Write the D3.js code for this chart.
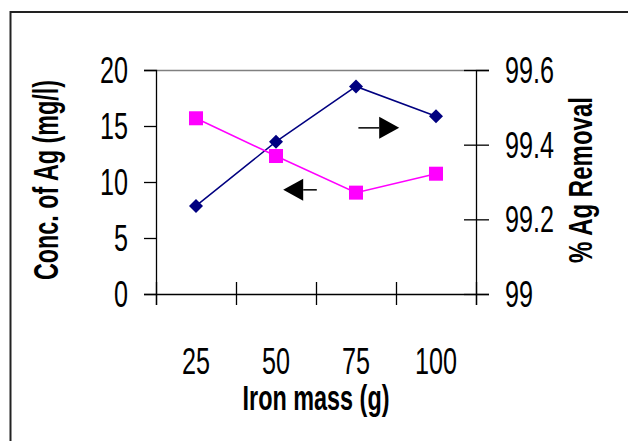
<!DOCTYPE html>
<html>
<head>
<meta charset="utf-8">
<script src="https://cdn.jsdelivr.net/npm/d3@7"></script>
<style>
  html, body { margin: 0; padding: 0; background: #fff; }
  svg { display: block; }
  text { font-family: "Liberation Sans Narrow", "Liberation Sans", Arial, sans-serif; fill: #000; }
</style>
</head>
<body>
<svg id="chart" width="628" height="441"></svg>
<script>
// Iron mass categories (g)
const categories = ["25", "50", "75", "100"];
// Residual silver concentration (mg/l), left axis
const concValues = [15.69, 12.32, 9.05, 10.74];
// Silver removal (%), right axis
const removalValues = [99.236, 99.408, 99.556, 99.476];
// Axis ticks
const concTicks = [0, 5, 10, 15, 20];
const removalTicks = [99, 99.2, 99.4, 99.6];
// Direction arrows: which axis each series belongs to
const arrowNotes = [
  { axis: "left",  from: 2.01, to: 1.59, value: 9.3 },
  { axis: "right", from: 2.53, to: 3.04, value: 99.445 }
];

const svg = d3.select("#chart");
const plot = { left: 156, top: 70, width: 320, height: 224 };

const x = d3.scaleBand().domain(categories).range([plot.left, plot.left + plot.width]).padding(0);
const xEdge = d3.scaleLinear().domain([0, categories.length]).range([plot.left, plot.left + plot.width]);
const yConc = d3.scaleLinear().domain([0, 20]).range([plot.top + plot.height, plot.top]);
const yRem = d3.scaleLinear().domain([99, 99.6]).range([plot.top + plot.height, plot.top]);
const cx = d => x(d) + x.bandwidth() / 2;

// chart frame (outer border)
svg.append("path")
  .attr("d", "M10.5,441 V12 H628")
  .attr("fill", "none").attr("stroke", "#222").attr("stroke-width", 2);

// plot area top edge
svg.append("line")
  .attr("x1", plot.left).attr("x2", plot.left + plot.width)
  .attr("y1", plot.top + 0.5).attr("y2", plot.top + 0.5)
  .attr("stroke", "#808080").attr("stroke-width", 1.3);

// horizontal condensing for the narrow lettering
function measure(txt, size, weight) {
  const t = svg.append("text").style("font-size", size + "px").style("font-weight", weight || "normal").text(txt);
  const w = t.node().getComputedTextLength();
  t.remove();
  return w;
}
function squeeze(textSel, k) {
  textSel.each(function () {
    const t = d3.select(this);
    const xx = +t.attr("x") || 0;
    t.attr("x", 0).attr("transform", `translate(${xx},0) scale(${k},1)`);
  });
}

const tickFont = 36;
const kTick = 28 / measure("20", tickFont);

// left axis
const gL = svg.append("g").attr("transform", `translate(${plot.left},0)`)
  .call(d3.axisLeft(yConc).tickValues(concTicks).tickSize(12).tickPadding(16).tickFormat(d3.format("d")));
gL.select(".domain").attr("stroke", "#000").attr("stroke-width", 1.3);
gL.selectAll(".tick line").attr("stroke", "#000").attr("stroke-width", 1.3);
gL.selectAll(".tick text").style("font-size", tickFont + "px").style("font-family", null).attr("dy", "0.35em");
squeeze(gL.selectAll(".tick text"), kTick);

// right axis
const gR = svg.append("g").attr("transform", `translate(${plot.left + plot.width},0)`)
  .call(d3.axisRight(yRem).tickValues(removalTicks).tickSize(13).tickPadding(16)
    .tickFormat(d => d === 99 ? "99" : d3.format(".1f")(d)));
gR.select(".domain").attr("stroke", "#000").attr("stroke-width", 1.3);
gR.selectAll(".tick line").attr("stroke", "#000").attr("stroke-width", 1.3).attr("x1", -12);
gR.selectAll(".tick text").style("font-size", tickFont + "px").style("font-family", null).attr("dy", "0.35em");
squeeze(gR.selectAll(".tick text"), kTick);

// bottom axis: tick marks between categories, crossing the axis line
const gB = svg.append("g").attr("transform", `translate(0,${plot.top + plot.height})`)
  .call(d3.axisBottom(xEdge).tickValues(d3.range(categories.length + 1)).tickSize(11).tickFormat(""));
gB.select(".domain").attr("stroke", "#000").attr("stroke-width", 1.3);
gB.selectAll(".tick line").attr("stroke", "#000").attr("stroke-width", 1.3).attr("y1", -12);

// category labels
const gC = svg.append("g").attr("transform", `translate(0,${plot.top + plot.height})`)
  .call(d3.axisBottom(x).tickSize(0).tickPadding(0));
gC.select(".domain").remove();
gC.selectAll(".tick text").style("font-size", tickFont + "px").style("font-family", null)
  .attr("y", 80).attr("dy", 0);
squeeze(gC.selectAll(".tick text"), kTick);

// axis titles
function title(txt, width, tx, ty, rot, size) {
  const k = width / measure(txt, size, "bold");
  svg.append("text")
    .attr("text-anchor", "middle")
    .attr("transform", `translate(${tx},${ty}) rotate(${rot}) scale(${k},1)`)
    .style("font-size", size + "px").style("font-weight", "bold")
    .text(txt);
}
title("Iron mass (g)", 147, 316, 410, 0, 36);
title("Conc. of Ag (mg/l)", 200, 58, 180, -90, 36);
title("% Ag Removal", 166, 592, 180, -90, 34);

// series lines
const lineConc = d3.line().x((d, i) => cx(categories[i])).y(d => yConc(d));
const lineRem = d3.line().x((d, i) => cx(categories[i])).y(d => yRem(d));

svg.append("path").datum(removalValues).attr("d", lineRem)
  .attr("fill", "none").attr("stroke", "#000080").attr("stroke-width", 1.5);
svg.append("path").datum(concValues).attr("d", lineConc)
  .attr("fill", "none").attr("stroke", "#FF00FF").attr("stroke-width", 1.5);

// markers
svg.append("g").selectAll("path").data(removalValues).join("path")
  .attr("transform", (d, i) => `translate(${cx(categories[i])},${yRem(d)})`)
  .attr("d", "M0,-7 L7,0 L0,7 L-7,0 Z")
  .attr("fill", "#000080");
svg.append("g").selectAll("rect").data(concValues).join("rect")
  .attr("x", (d, i) => cx(categories[i]) - 7)
  .attr("y", d => yConc(d) - 7)
  .attr("width", 14).attr("height", 14)
  .attr("fill", "#FF00FF");

// arrows pointing to each series' axis
arrowNotes.forEach(a => {
  const yy = a.axis === "left" ? yConc(a.value) : yRem(a.value);
  const x0 = xEdge(a.from), x1 = xEdge(a.to);
  const dir = Math.sign(x1 - x0);
  const head = 20, half = 11;
  svg.append("line")
    .attr("x1", x0).attr("x2", x1 - dir * head).attr("y1", yy).attr("y2", yy)
    .attr("stroke", "#000").attr("stroke-width", 1.5);
  svg.append("path")
    .attr("d", `M${x1},${yy} L${x1 - dir * head},${yy - half} L${x1 - dir * head},${yy + half} Z`)
    .attr("fill", "#000");
});
</script>
</body>
</html>
